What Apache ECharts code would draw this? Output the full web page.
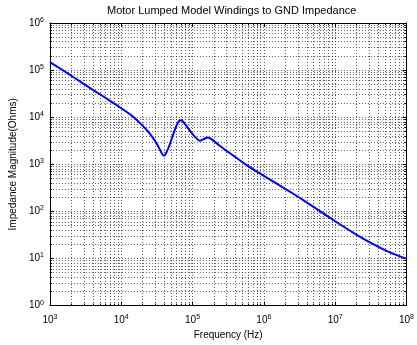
<!DOCTYPE html>
<html><head><meta charset="utf-8">
<script src="https://cdn.jsdelivr.net/npm/echarts@6/dist/echarts.min.js"></script>
<style>html,body{margin:0;padding:0;background:#fff}#c{width:417px;height:345px}</style>
</head><body><div id="c"></div>
<script>
const titleText = 'Motor Lumped Model Windings to GND Impedance';
const xName = 'Frequency (Hz)';
const yName = 'Impedance Magnitude(Ohms)';
const freqHz = [1000, 1778, 3162, 5623, 10000, 14125, 18197, 22387, 28184, 33113, 37154, 39811, 42658, 47863, 53703, 60256, 66069, 70795, 79433, 91201, 107152, 125893, 141254, 162181, 186209, 237137, 323594, 616595, 1174898, 1995262, 3162278, 5623413, 10000000, 17782794, 31622777, 56234133, 100000000];
const impedanceOhms = [147911, 85114, 47863, 27542, 15488, 10715, 7586, 5495, 3548, 2399, 1698, 1514, 1738, 2630, 4365, 6918, 8511, 8511, 6918, 5248, 3890, 3162, 3388, 3715, 3388, 2512, 1778, 891, 490, 302, 195, 110, 61.7, 35.5, 21.4, 13.8, 9.8];
const xRange = [1e3, 1e8];
const yRange = [1e0, 1e6];

const FONT = 'Liberation Sans';
const gridStyle = {color: '#333', width: 1, type: [1, 2], opacity: 0.8};
function expLabel(v) { return '10{s|' + Math.round(Math.log10(v)) + '}'; }
const labelRich = {s: {fontSize: 7, verticalAlign: 'top', padding: [0, 0, 6, 0], fontFamily: FONT, color: '#000'}};

function mkAxis(pos, range, primary) {
  return {
    type: 'log', logBase: 10, position: pos, min: range[0], max: range[1],
    axisLine: {show: true, onZero: false, lineStyle: {color: '#000', width: 1}},
    axisTick: {show: true, inside: true, length: 4, lineStyle: {color: '#000'}},
    minorTick: {show: true, splitNumber: 9, length: 2, lineStyle: {color: '#000'}},
    splitLine: {show: primary, lineStyle: gridStyle},
    minorSplitLine: {show: primary, lineStyle: gridStyle},
    axisLabel: {show: primary, formatter: expLabel, rich: labelRich, fontSize: 10, fontFamily: FONT, color: '#000', margin: pos === 'bottom' ? 8 : 6}
  };
}

const xMain = Object.assign(mkAxis('bottom', xRange, true), {name: xName, nameLocation: 'middle', nameGap: 22, nameTextStyle: {fontSize: 10, fontFamily: FONT, color: '#000'}});
const yMain = Object.assign(mkAxis('left', yRange, true), {name: yName, nameLocation: 'middle', nameGap: 24, nameTextStyle: {fontSize: 10, fontFamily: FONT, color: '#000'}});

const chart = echarts.init(document.getElementById('c'), null, {renderer: 'canvas'});
chart.setOption({
  animation: false,
  backgroundColor: '#fff',
  title: {text: titleText, left: 107, top: 5, padding: 0, textStyle: {fontSize: 11, fontWeight: 'normal', fontFamily: FONT, color: '#000'}},
  grid: {left: 49, right: 8, top: 23, bottom: 39, containLabel: false},
  xAxis: [xMain, mkAxis('top', xRange, false)],
  yAxis: [yMain, mkAxis('right', yRange, false)],
  series: [{
    type: 'line', xAxisIndex: 0, yAxisIndex: 0,
    data: freqHz.map((f, i) => [f, impedanceOhms[i]]),
    showSymbol: false, smooth: 0.2,
    lineStyle: {color: '#0000ff', width: 2}
  }]
});
</script></body></html>
